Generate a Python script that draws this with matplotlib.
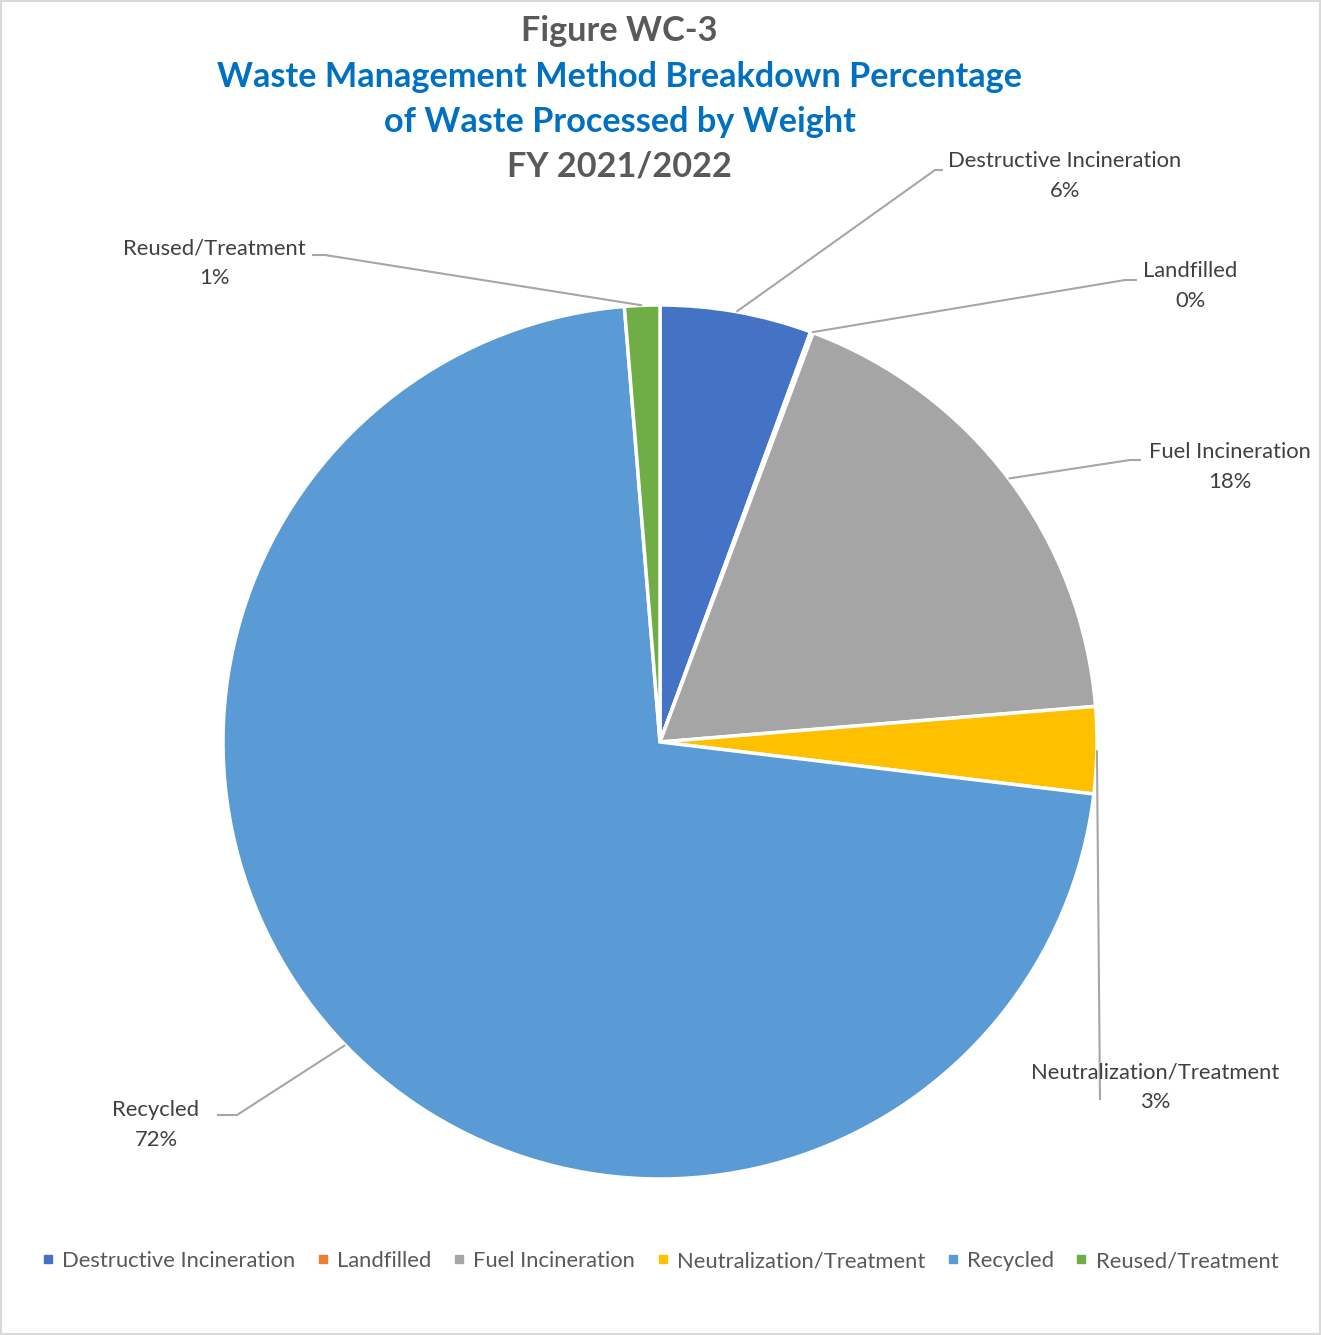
import numpy as np
import matplotlib.pyplot as plt
from matplotlib.lines import Line2D
from matplotlib.patches import Rectangle

plt.rcParams['font.family'] = ['Lato', 'DejaVu Sans']

# ── data ───────────────────────────────────────────────
categories = ["Destructive Incineration", "Landfilled", "Fuel Incineration",
              "Neutralization/Treatment", "Recycled", "Reused/Treatment"]
values = [5.6, 0.1, 18.0, 3.2, 71.8, 1.3]
colors = ["#4472C4", "#ED7D31", "#A5A5A5", "#FFC000", "#5B9BD5", "#70AD47"]

# label anchor positions (pixels in the 1321x1335 frame) and leader elbows
label_xy = [(1065, 176), (1190, 286), (1230, 467), (1155, 1087), (156, 1125), (214, 263)]
elbow_xy = [(935, 170), (1125, 280), (1130, 460), (1100, 1100), (237, 1115), (325, 255)]
end_xy = [(943, 170), (1137, 280), (1141, 460), (1100, 1100), (217, 1115), (312, 255)]

W, H = 1321, 1335
fig = plt.figure(figsize=(W / 100, H / 100), dpi=100)

cx, cy, r = 660, 742, 437
ax = fig.add_axes([(cx - r) / W, (H - cy - r) / H, 2 * r / W, 2 * r / H])
wedges, _ = ax.pie(values, colors=colors, startangle=90, counterclock=False,
                   radius=1.0, wedgeprops=dict(edgecolor="white", linewidth=2.5))
ax.set_xlim(-1, 1)
ax.set_ylim(-1, 1)
ax.set_aspect("equal")
ax.axis("off")


def px2data(p):
    return ((p[0] - cx) / r, (cy - p[1]) / r)


# leader lines and labels
cum = np.cumsum([0] + values[:-1])
total = sum(values)
for i, (cat, v) in enumerate(zip(categories, values)):
    mid = (cum[i] + v / 2) / total * 360
    ang = np.deg2rad(90 - mid)
    sx, sy = np.cos(ang), np.sin(ang)
    ex, ey = px2data(elbow_xy[i])
    tx, ty = px2data(end_xy[i])
    ax.plot([sx, ex, tx], [sy, ey, ty], color="#A6A6A6", lw=1.5,
            clip_on=False, solid_capstyle="butt")
    lx, ly = px2data(label_xy[i])
    ax.text(lx, ly, f"{cat}\n{round(v):.0f}%", ha="center", va="center",
            fontsize=15.8, color="#404040", linespacing=1.6, clip_on=False)

# titles
fig.text(0.469, 1 - 31 / H, "Figure WC-3", ha="center", va="center",
         fontsize=24.7, fontweight="bold", color="#595959")
fig.text(0.469, 1 - 77 / H, "Waste Management Method Breakdown Percentage",
         ha="center", va="center", fontsize=24.7, fontweight="bold", color="#0070C0")
fig.text(0.469, 1 - 122 / H, "of Waste Processed by Weight",
         ha="center", va="center", fontsize=24.7, fontweight="bold", color="#0070C0")
fig.text(0.469, 1 - 167 / H, "FY 2021/2022", ha="center", va="center",
         fontsize=24.7, fontweight="bold", color="#595959")

# legend
handles = [Line2D([], [], marker="s", linestyle="none", markersize=6,
                  markerfacecolor=c, markeredgecolor=c) for c in colors]
fig.legend(handles, categories, loc="center", bbox_to_anchor=(0.5, 1 - 1261 / H),
           ncol=6, frameon=False, fontsize=15.8, handlelength=0.5,
           handletextpad=0.4, columnspacing=1.0, labelcolor="#595959")

# border
fig.patches.append(Rectangle((0.001, 0.001), 0.998, 0.998, transform=fig.transFigure,
                             fill=False, edgecolor="#D9D9D9", lw=1.5))

fig.savefig("out.png", dpi=100, facecolor="white")
